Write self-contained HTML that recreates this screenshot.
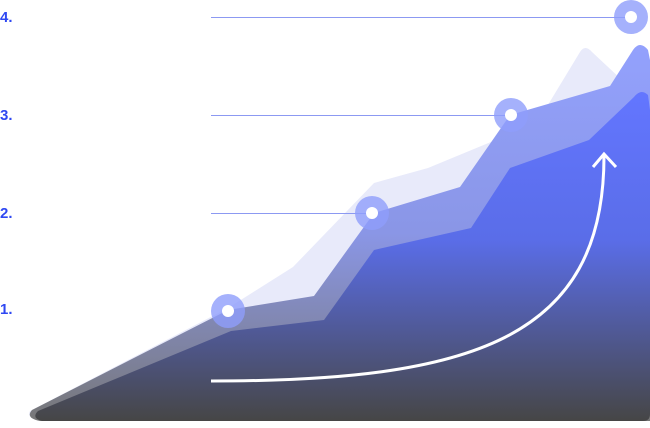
<!DOCTYPE html><html><head><style>body{margin:0;background:#fff;width:650px;height:423px;overflow:hidden;font-family:"Liberation Sans",sans-serif}</style></head><body>
<svg width="650" height="423" viewBox="0 0 650 423" xmlns="http://www.w3.org/2000/svg">
<defs>
<linearGradient id="gf" x1="0" y1="0" x2="0" y2="1" gradientUnits="objectBoundingBox"><stop offset="0" stop-color="#6376ff"/><stop offset="0.45" stop-color="#5a6de8"/><stop offset="1" stop-color="#464646"/></linearGradient>
<linearGradient id="gm" x1="0" y1="0" x2="0" y2="1"><stop offset="0" stop-color="#93a1fd"/><stop offset="0.5" stop-color="#8a96e6"/><stop offset="1" stop-color="#777"/></linearGradient>
</defs>
<path d="M30,411 L228,308 L293,267 L374,183 L428,168 L537,123 L580,52 Q585,44 592,52 L638,95 L650,100 L650,421 L40,421 Q26,418 30,411Z" fill="#e8eafa"/>
<path d="M32,410 L228,310 L314,296 L374,213 L460,187 L510,115 L610,86 L633,50 Q640,40 648,50 L650,60 L650,421 L40,421 Q25,418 32,410Z" fill="url(#gm)"/>
<path d="M38,411 L231,331 L324,320 L374,250 L471,228 L510,168 L589,140 L634,97 Q641,88 648,95 L650,110 L650,414 Q650,421 643,421 L42,421 Q31,418 38,411Z" fill="url(#gf)"/>
<g stroke="#8c99f2" stroke-width="1"><line x1="211" y1="17.5" x2="631" y2="17.5"/><line x1="211" y1="115.5" x2="511" y2="115.5"/><line x1="211" y1="213.5" x2="372" y2="213.5"/></g>
<g fill="#8e9dfb" fill-opacity="0.8"><circle cx="631" cy="17" r="17"/><circle cx="511" cy="115" r="17"/><circle cx="372" cy="213" r="17"/><circle cx="228" cy="311" r="17"/></g>
<g fill="#fff"><circle cx="631" cy="17" r="6"/><circle cx="511" cy="115" r="6"/><circle cx="372" cy="213" r="6"/><circle cx="228" cy="311" r="6"/></g>
<path d="M211,381 C470,381 604,340 604,156" fill="none" stroke="#fff" stroke-width="3"/>
<path d="M593,167 L604,154 L616,167" fill="none" stroke="#fff" stroke-width="3"/>
<g fill="#2f48f2" font-size="15" font-weight="bold"><text x="0" y="22">4.</text><text x="0" y="120">3.</text><text x="0" y="218">2.</text><text x="0" y="314">1.</text></g>
</svg></body></html>
